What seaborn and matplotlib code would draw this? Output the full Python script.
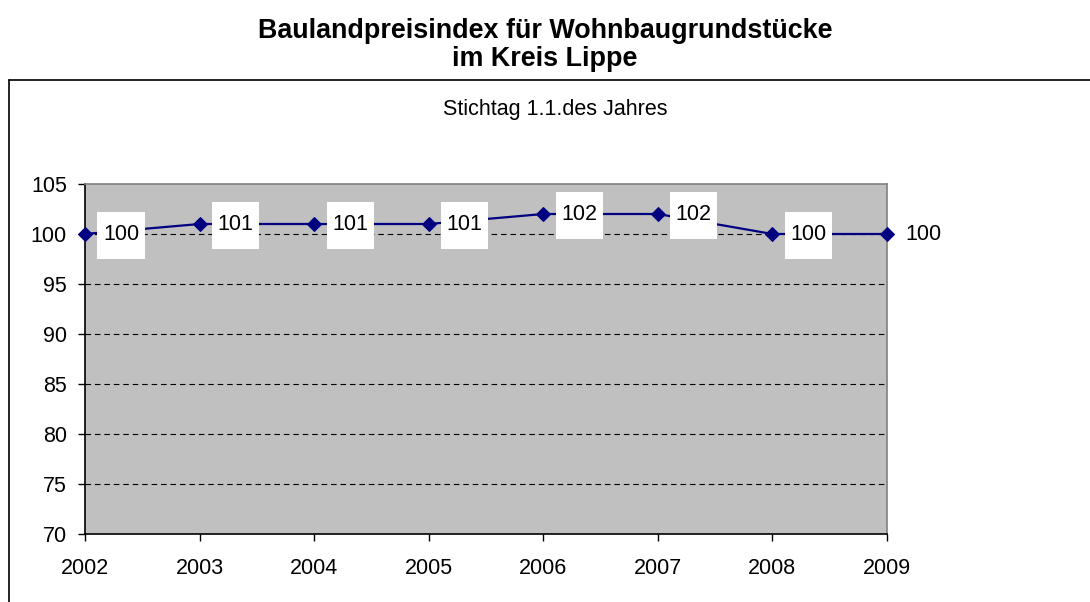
import matplotlib
matplotlib.use("Agg")
import matplotlib.pyplot as plt
from matplotlib.lines import Line2D
from matplotlib.path import Path
import seaborn as sns
import pandas as pd

years = [2002, 2003, 2004, 2005, 2006, 2007, 2008, 2009]
index_values = [100, 101, 101, 101, 102, 102, 100, 100]
y_ticks = [70, 75, 80, 85, 90, 95, 100, 105]
title_text = "Baulandpreisindex für Wohnbaugrundstücke\nim Kreis Lippe"
subtitle_text = "Stichtag 1.1.des Jahres"

df = pd.DataFrame({"Jahr": years, "Index": index_values})

sns.set_style("white")
plt.rcParams["font.family"] = ["Liberation Sans", "DejaVu Sans"]
plt.rcParams["text.color"] = "black"

W, H = 1090, 602
fig = plt.figure(figsize=(W / 100, H / 100), dpi=100)
ax = fig.add_axes([85 / W, (H - 534) / H, 802 / W, 350 / H])
ax.set_facecolor("#C0C0C0")

sns.lineplot(data=df, x="Jahr", y="Index", ax=ax, color="#000080",
             marker="D", markersize=7.5, markeredgecolor="#000080",
             linewidth=1.6, clip_on=False, zorder=3)

ax.set_xlim(years[0], years[-1])
ax.set_ylim(y_ticks[0], y_ticks[-1])
ax.set_xticks(years)
ax.set_yticks(y_ticks)
ax.set_xlabel("")
ax.set_ylabel("")
ax.tick_params(axis="both", which="major", labelsize=15.5, direction="out",
               length=5, width=1, color="black", labelcolor="black")
ax.tick_params(axis="x", pad=12, bottom=True)
ax.tick_params(axis="y", pad=8, left=True)

ax.yaxis.grid(True, color="black", linestyle=(0, (5, 3.5)), linewidth=0.8)
ax.set_axisbelow(True)
gl = ax.yaxis.get_gridlines()
gl[0].set_visible(False)
gl[-1].set_visible(False)

for s in ["left", "bottom"]:
    ax.spines[s].set_color("black")
    ax.spines[s].set_linewidth(1.2)
for s in ["top", "right"]:
    ax.spines[s].set_color("#808080")
    ax.spines[s].set_linewidth(1.2)


def make_box(px, py):
    def box(x0, y0, width, height, mutation_size):
        x0 -= px
        y0 -= py
        x1 = x0 + width + 2 * px
        y1 = y0 + height + 2 * py
        return Path([(x0, y0), (x1, y0), (x1, y1), (x0, y1), (x0, y0)], closed=True)
    return box


for i, (xv, yv) in enumerate(zip(years, index_values)):
    kw = {}
    if i < len(years) - 1:
        kw["bbox"] = dict(boxstyle=make_box(5.5, 13), facecolor="white",
                          edgecolor="none")
    ax.annotate(str(yv), xy=(xv, yv), xytext=(36, -1),
                textcoords="offset pixels", ha="center", va="center",
                fontsize=15.5, color="black", annotation_clip=False,
                zorder=4, **kw)

fig.text(545 / W, 1 - 45 / H, title_text, ha="center", va="center",
         fontsize=19.4, fontweight="bold", linespacing=1.08, color="black")
fig.text(555 / W, 1 - 110 / H, subtitle_text, ha="center", va="center",
         fontsize=15.5, color="black")

fig.add_artist(Line2D([9 / W, 9 / W], [1 - 80 / H, 0], transform=fig.transFigure,
                      color="black", linewidth=1.2))
fig.add_artist(Line2D([9 / W, 1], [1 - 80 / H, 1 - 80 / H], transform=fig.transFigure,
                      color="black", linewidth=1.2))

fig.savefig("out.png", dpi=100)
